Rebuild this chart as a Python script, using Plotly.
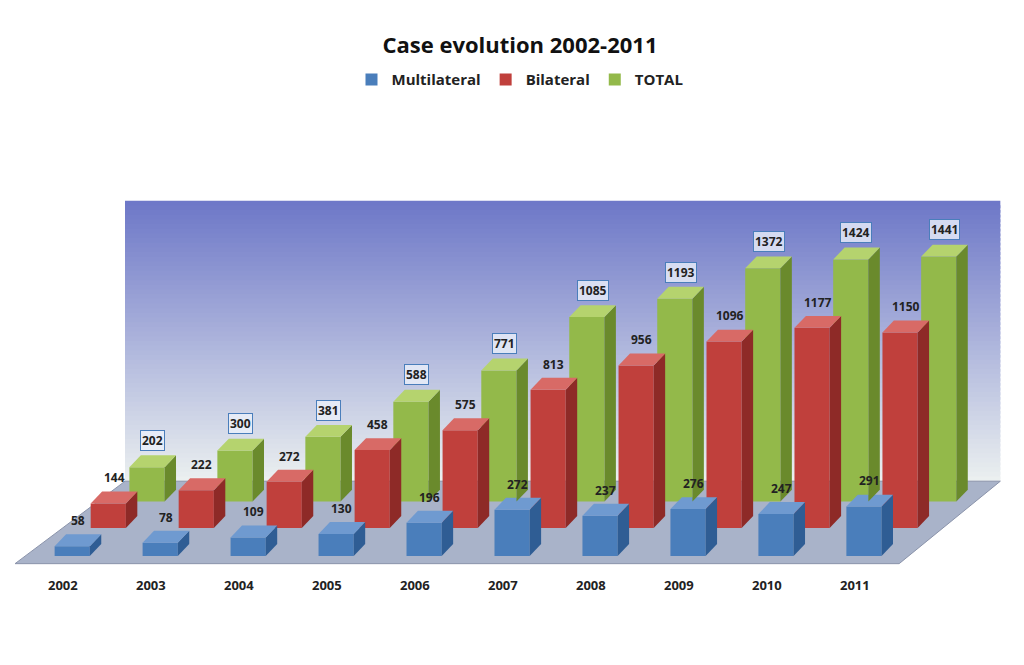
import plotly.graph_objects as go

years = ["2002", "2003", "2004", "2005", "2006", "2007", "2008", "2009", "2010", "2011"]
multilateral = [58, 78, 109, 130, 196, 272, 237, 276, 247, 291]
bilateral = [144, 222, 272, 458, 575, 813, 956, 1096, 1177, 1150]
total = [202, 300, 381, 588, 771, 1085, 1193, 1372, 1424, 1441]

# pseudo-3d layout: each series sits on its own depth row
series = [
    ("Multilateral", multilateral, 0.0, 0, "#4a7ebb", "#2f5d94", "#6f9ad0"),
    ("Bilateral", bilateral, 0.41, 165, "#c0403c", "#8e2a27", "#d86a66"),
    ("TOTAL", total, 0.85, 320, "#93b94a", "#6a8a2c", "#b5d36e"),
]
W = 0.4
DX, DY = 0.13, 70

fig = go.Figure()
shapes = []
annotations = []

# back wall gradient
wall_top, wall_bot = 2090, 440
n = 60
step = (wall_top - wall_bot) / n
for k in range(n):
    t = k / (n - 1)
    r = int(110 + (235 - 110) * t)
    g = int(120 + (240 - 120) * t)
    b = int(200 + (240 - 200) * t)
    y0 = wall_top - step * k
    y1 = y0 - step * 1.6
    shapes.append(dict(type="rect", xref="x", yref="y", x0=0.6, x1=10.55, y0=max(y1, wall_bot), y1=y0,
                       fillcolor=f"rgb({r},{g},{b})", line_width=0, layer="below"))
# floor
shapes.append(dict(type="path", xref="x", yref="y", layer="below",
                   path="M -0.65,-45 L 9.4,-45 L 10.55,440 L 0.6,440 Z",
                   fillcolor="#a9b3c9", line=dict(color="#8a93aa", width=1)))

for name, vals, off, base, col, side, top in series:
    xs = [i + off for i in range(len(years))]
    fig.add_trace(go.Bar(x=xs, y=vals, base=[base] * len(vals), width=W, name=name,
                         marker=dict(color=col, line_width=0), hoverinfo="y"))
    for x, v in zip(xs, vals):
        xr = x + W / 2
        xl = x - W / 2
        yt = base + v
        shapes.append(dict(type="path", xref="x", yref="y", fillcolor=side, line_width=0,
                           path=f"M {xr},{base} L {xr+DX},{base+DY} L {xr+DX},{yt+DY} L {xr},{yt} Z"))
        shapes.append(dict(type="path", xref="x", yref="y", fillcolor=top, line_width=0,
                           path=f"M {xl},{yt} L {xr},{yt} L {xr+DX},{yt+DY} L {xl+DX},{yt+DY} Z"))
        boxed = name == "TOTAL"
        annotations.append(dict(x=x + DX / 2, y=yt + DY + 25, text=f"<b>{v}</b>", showarrow=False,
                                yanchor="bottom", font=dict(size=12, color="#222"),
                                bordercolor="#4a7ebb" if boxed else None,
                                borderwidth=1 if boxed else 0, borderpad=1,
                                bgcolor="rgba(235,240,250,0.8)" if boxed else None))

for i, y in enumerate(years):
    annotations.append(dict(x=i - 0.1, y=-170, text=f"<b>{y}</b>", showarrow=False,
                            font=dict(size=13, color="#222")))

fig.update_layout(
    width=1024, height=665,
    margin=dict(l=0, r=0, t=0, b=0),
    paper_bgcolor="white", plot_bgcolor="white",
    barmode="overlay",
    font=dict(family="Open Sans, sans-serif"),
    title=dict(text="<b>Case evolution 2002-2011</b>", x=0.5, y=0.955, xanchor="center",
               font=dict(size=22, color="#111")),
    legend=dict(orientation="h", x=0.5, xanchor="center", y=0.892, yanchor="middle",
                font=dict(size=15, color="#222", weight="bold"), traceorder="normal",
                itemwidth=30),
    xaxis=dict(range=[-0.73, 10.91], visible=False, fixedrange=True),
    yaxis=dict(range=[-688, 3223], visible=False, fixedrange=True),
    shapes=shapes,
    annotations=annotations,
)

fig.write_html("out.html")
